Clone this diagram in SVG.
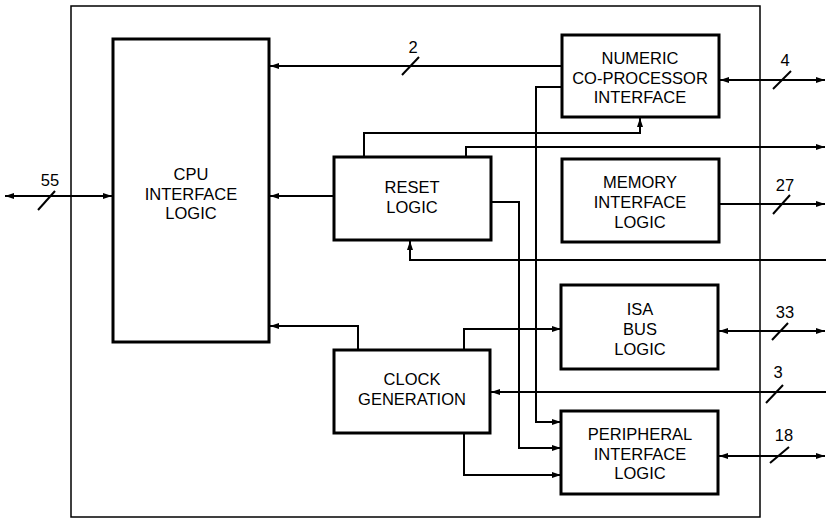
<svg xmlns="http://www.w3.org/2000/svg" width="826" height="520" viewBox="0 0 826 520">
<style>
.box{fill:#fff;stroke:#000;stroke-width:3}
.frame{fill:none;stroke:#000;stroke-width:1.5}
.c{fill:none;stroke:#000;stroke-width:2}
.s{stroke:#000;stroke-width:2}
text{font-family:"Liberation Sans",Arial,sans-serif;font-size:16.5px;fill:#000;text-anchor:middle}
.n{font-size:16.5px}
</style>
<defs>
<marker id="a" markerUnits="userSpaceOnUse" markerWidth="10" markerHeight="8" refX="9" refY="4" orient="auto-start-reverse">
<path d="M0,1 L9,4 L0,7 Z" fill="#000"/>
</marker>
</defs>
<rect class="frame" x="71" y="6" width="689" height="511"/>
<g id="connectors">
<path class="c" d="M562,66 H270" marker-end="url(#a)"/>
<path class="c" d="M112,196 H5" marker-start="url(#a)" marker-end="url(#a)"/>
<path class="c" d="M720,80 H825" marker-start="url(#a)" marker-end="url(#a)"/>
<path class="c" d="M334,196 H270" marker-end="url(#a)"/>
<path class="c" d="M364,157 V133 H640 V118" marker-end="url(#a)"/>
<path class="c" d="M466,157 V147 H825" marker-end="url(#a)"/>
<path class="c" d="M491,202 H519 V448 H561" marker-end="url(#a)"/>
<path class="c" d="M562,87 H536 V422 H561" marker-end="url(#a)"/>
<path class="c" d="M719,204 H825" marker-end="url(#a)"/>
<path class="c" d="M826,260 H410 V241" marker-end="url(#a)"/>
<path class="c" d="M719,331 H825" marker-start="url(#a)" marker-end="url(#a)"/>
<path class="c" d="M358,350 V326 H270" marker-end="url(#a)"/>
<path class="c" d="M464,350 V329 H561" marker-end="url(#a)"/>
<path class="c" d="M826,392 H491" marker-end="url(#a)"/>
<path class="c" d="M464,433 V475 H561" marker-end="url(#a)"/>
<path class="c" d="M719,456 H825" marker-start="url(#a)" marker-end="url(#a)"/>
<line class="s" x1="402" y1="75" x2="419" y2="57"/>
<line class="s" x1="38" y1="210" x2="55" y2="191"/>
<line class="s" x1="773" y1="89" x2="791" y2="71"/>
<line class="s" x1="773" y1="214" x2="790" y2="195"/>
<line class="s" x1="772" y1="340" x2="788" y2="323"/>
<line class="s" x1="766" y1="403" x2="783" y2="385"/>
<line class="s" x1="770" y1="463" x2="789" y2="447"/>
<text class="n" x="413" y="53">2</text>
<text class="n" x="50" y="186">55</text>
<text class="n" x="785" y="66">4</text>
<text class="n" x="785" y="191">27</text>
<text class="n" x="785" y="318">33</text>
<text class="n" x="778" y="378">3</text>
<text class="n" x="784" y="441">18</text>
</g>
<g id="cpu">
<rect class="box" x="113" y="39" width="156" height="303"/>
<text x="191" y="180">CPU</text>
<text x="191" y="200">INTERFACE</text>
<text x="191" y="219">LOGIC</text>
</g>
<g id="ncp">
<rect class="box" x="562" y="35" width="157" height="82"/>
<text x="640" y="64">NUMERIC</text>
<text x="640" y="84">CO-PROCESSOR</text>
<text x="640" y="103">INTERFACE</text>
</g>
<g id="reset">
<rect class="box" x="334" y="157" width="157" height="83"/>
<text x="412" y="193">RESET</text>
<text x="412" y="213">LOGIC</text>
</g>
<g id="memory">
<rect class="box" x="562" y="159" width="157" height="83"/>
<text x="640" y="188">MEMORY</text>
<text x="640" y="208">INTERFACE</text>
<text x="640" y="228">LOGIC</text>
</g>
<g id="isa">
<rect class="box" x="561" y="285" width="157" height="84"/>
<text x="640" y="315">ISA</text>
<text x="640" y="335">BUS</text>
<text x="640" y="355">LOGIC</text>
</g>
<g id="clock">
<rect class="box" x="334" y="350" width="156" height="83"/>
<text x="412" y="385">CLOCK</text>
<text x="412" y="405">GENERATION</text>
</g>
<g id="peripheral">
<rect class="box" x="561" y="411" width="157" height="83"/>
<text x="640" y="440">PERIPHERAL</text>
<text x="640" y="460">INTERFACE</text>
<text x="640" y="479">LOGIC</text>
</g>
</svg>
